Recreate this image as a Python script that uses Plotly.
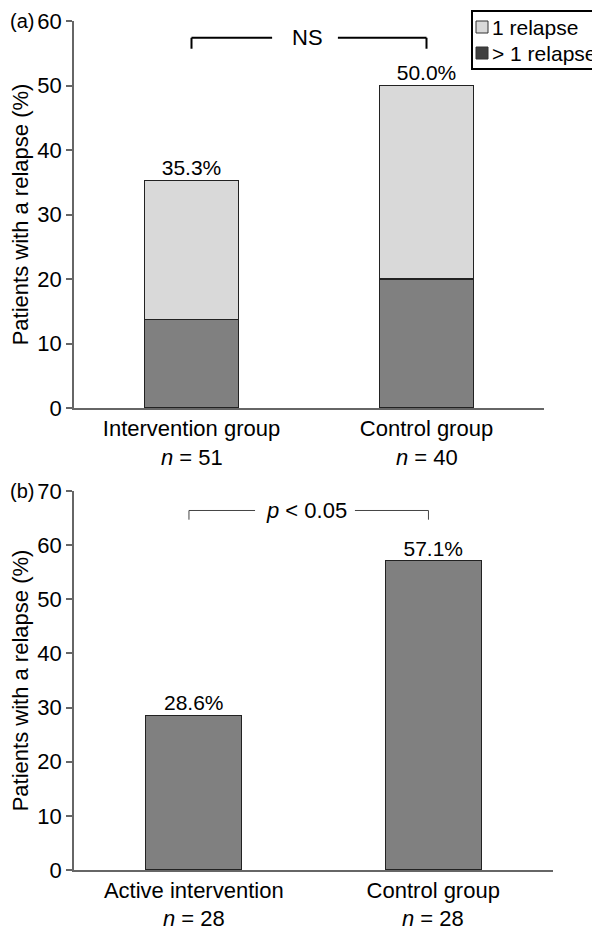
import plotly.graph_objects as go

# ---- data ----
cats_a = ["Intervention group", "Control group"]
n_a = ["51", "40"]
multi_relapse_a = [13.7, 20.0]    # > 1 relapse (%)
single_relapse_a = [21.6, 30.0]   # 1 relapse (%)
total_a = [35.3, 50.0]

cats_b = ["Active intervention", "Control group"]
n_b = ["28", "28"]
relapse_b = [28.6, 57.1]

legend_labels = ["1 relapse", "> 1 relapse"]
legend_colors = ["#d9d9d9", "#404040"]

FONT = "Liberation Sans, Arial, Helvetica, sans-serif"
FS = 22
FS_VAL = 21
FS_LEG = 21
AXC = "#666666"

fig = go.Figure()

fig.add_trace(go.Bar(x=cats_a, y=multi_relapse_a, width=0.4, marker=dict(color="#808080", line=dict(color="#222", width=1.2)),
                     xaxis="x", yaxis="y", showlegend=False, hoverinfo="skip"))
fig.add_trace(go.Bar(x=cats_a, y=single_relapse_a, width=0.4, marker=dict(color="#d9d9d9", line=dict(color="#222", width=1.2)),
                     xaxis="x", yaxis="y", showlegend=False, hoverinfo="skip"))
fig.add_trace(go.Scatter(x=cats_a, y=total_a, mode="text", text=[f"{v:.1f}%" for v in total_a],
                         textposition="top center", textfont=dict(size=FS_VAL, color="black", family=FONT),
                         cliponaxis=False, xaxis="x", yaxis="y", showlegend=False))

fig.add_trace(go.Bar(x=cats_b, y=relapse_b, width=0.4, marker=dict(color="#808080", line=dict(color="#222", width=1.2)),
                     xaxis="x2", yaxis="y2", showlegend=False, hoverinfo="skip"))
fig.add_trace(go.Scatter(x=cats_b, y=relapse_b, mode="text", text=[f"{v:.1f}%" for v in relapse_b],
                         textposition="top center", textfont=dict(size=FS_VAL, color="black", family=FONT),
                         cliponaxis=False, xaxis="x2", yaxis="y2", showlegend=False))

L, R, T, B = 66, 55, 13, 68
W, H = 600, 930
pw = W - L - R
ph = H - T - B

def py(p):
    return (H - B - p) / ph

def px(p):
    return (p - L) / pw

ax_common = dict(showline=True, linecolor=AXC, linewidth=1.5, showgrid=False, zeroline=False,
                 tickfont=dict(size=FS, color="black", family=FONT), fixedrange=True)

fig.update_layout(
    width=W, height=H, margin=dict(l=L, r=R, t=T, b=B, autoexpand=False),
    paper_bgcolor="white", plot_bgcolor="white", barmode="stack", showlegend=False,
    font=dict(family=FONT, size=FS, color="black"),
    xaxis=dict(domain=[0, px(536)], anchor="y", range=[-0.5, 1.5], ticks="", **ax_common),
    yaxis=dict(domain=[py(400), 1], anchor="x", range=[0, 60], dtick=10, ticks="outside", ticklen=6,
               tickcolor=AXC, tickwidth=1.5,
               title=dict(text="Patients with a relapse (%)", font=dict(size=FS), standoff=6), **ax_common),
    xaxis2=dict(domain=[0, 1], anchor="y2", range=[-0.5, 1.5], ticks="", **ax_common),
    yaxis2=dict(domain=[0, py(483)], anchor="x2", range=[0, 70], dtick=10, ticks="outside", ticklen=6,
                tickcolor=AXC, tickwidth=1.5,
                title=dict(text="Patients with a relapse (%)", font=dict(size=FS), standoff=6), **ax_common),
)

shapes = []
# bracket (a)
for x0, x1 in [(0, 0.343), (0.623, 1)]:
    shapes.append(dict(type="line", xref="x", yref="y", x0=x0, x1=x1, y0=57.4, y1=57.4, line=dict(color="black", width=2)))
for xv in [0, 1]:
    shapes.append(dict(type="line", xref="x", yref="y", x0=xv, x1=xv, y0=57.4, y1=55.7, line=dict(color="black", width=2)))
# bracket (b)
for x0, x1 in [(-0.02, 0.256), (0.673, 0.98)]:
    shapes.append(dict(type="line", xref="x2", yref="y2", x0=x0, x1=x1, y0=66.4, y1=66.4, line=dict(color="#444", width=1)))
for xv in [-0.02, 0.98]:
    shapes.append(dict(type="line", xref="x2", yref="y2", x0=xv, x1=xv, y0=66.4, y1=64.7, line=dict(color="#444", width=1)))

# legend box (manual, to match the compact reference legend)
shapes.append(dict(type="rect", xref="paper", yref="paper", x0=px(464), x1=px(599), y0=py(61), y1=py(3),
                   line=dict(color="black", width=2), fillcolor="white"))
ann = []
for i, (lab, col) in enumerate(zip(legend_labels, legend_colors)):
    cy = 19 + 26 * i
    shapes.append(dict(type="rect", xref="paper", yref="paper", x0=px(468), x1=px(480), y0=py(cy + 6), y1=py(cy - 6),
                       line=dict(color="#333", width=1), fillcolor=col))
    ann.append(dict(xref="paper", yref="paper", x=px(482), y=py(cy), xanchor="left", yanchor="middle",
                    text=lab, showarrow=False, font=dict(size=FS_LEG)))
fig.update_layout(shapes=shapes)

ann.append(dict(xref="x", yref="y", x=0.494, y=57.4, text="NS", showarrow=False, font=dict(size=FS)))
ann.append(dict(xref="x2", yref="y2", x=0.47, y=66.4, text="<i>p</i> < 0.05", showarrow=False, font=dict(size=FS)))
for c, n in zip(cats_a, n_a):
    ann.append(dict(xref="x", yref="y", x=c, y=0, yshift=-49, text=f"<i>n</i> = {n}", showarrow=False, font=dict(size=FS)))
for c, n in zip(cats_b, n_b):
    ann.append(dict(xref="x2", yref="y2", x=c, y=0, yshift=-48, text=f"<i>n</i> = {n}", showarrow=False, font=dict(size=FS)))
ann.append(dict(xref="paper", yref="paper", x=px(0), y=py(13), xanchor="left", yanchor="middle", text="(a)", showarrow=False, font=dict(size=20)))
ann.append(dict(xref="paper", yref="paper", x=px(0), y=py(483), xanchor="left", yanchor="middle", text="(b)", showarrow=False, font=dict(size=20)))
fig.update_layout(annotations=ann)

fig.write_html("out.html")
